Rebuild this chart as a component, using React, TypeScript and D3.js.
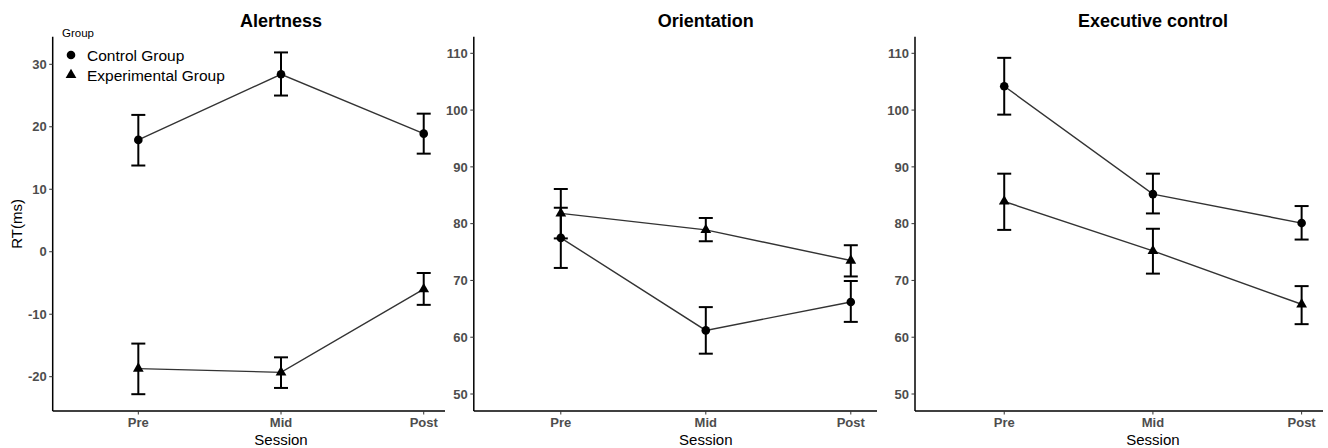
import * as d3 from 'd3';

const sessions = ['Pre', 'Mid', 'Post'];
const groups = ['Control Group', 'Experimental Group'];

// Alertness
const alertCtrl = [17.9, 28.4, 18.9];
const alertCtrlLo = [13.8, 25.0, 15.7];
const alertCtrlHi = [21.9, 31.9, 22.1];
const alertExp = [-18.7, -19.3, -6.0];
const alertExpLo = [-22.8, -21.8, -8.5];
const alertExpHi = [-14.7, -16.9, -3.4];

// Orientation
const orientCtrl = [77.5, 61.2, 66.2];
const orientCtrlLo = [72.2, 57.1, 62.7];
const orientCtrlHi = [82.8, 65.3, 69.9];
const orientExp = [81.8, 78.9, 73.5];
const orientExpLo = [77.4, 76.9, 70.7];
const orientExpHi = [86.1, 81.0, 76.2];

// Executive control
const execCtrl = [104.2, 85.2, 80.1];
const execCtrlLo = [99.2, 81.8, 77.2];
const execCtrlHi = [109.2, 88.8, 83.1];
const execExp = [83.9, 75.2, 65.8];
const execExpLo = [78.9, 71.2, 62.3];
const execExpHi = [88.8, 79.1, 69.0];

const alertTicks = [-20, -10, 0, 10, 20, 30];
const rtTicks = [50, 60, 70, 80, 90, 100, 110];

const font = '"Liberation Sans", Arial, sans-serif';

const panels = [
  {
    title: 'Alertness', bgX: 0, axisX: 52.7, step: 142.7, axisEnd: 445,
    domain: [-20, 30], range: [376.7, 64.3], ticks: alertTicks, yLabel: true, legend: true,
    series: [
      { mean: alertCtrl, lo: alertCtrlLo, hi: alertCtrlHi, shape: 'circle' },
      { mean: alertExp, lo: alertExpLo, hi: alertExpHi, shape: 'triangle' },
    ],
  },
  {
    title: 'Orientation', bgX: 445, axisX: 473.8, step: 145, axisEnd: 877,
    domain: [50, 110], range: [394, 53.3], ticks: rtTicks, yLabel: false, legend: false,
    series: [
      { mean: orientCtrl, lo: orientCtrlLo, hi: orientCtrlHi, shape: 'circle' },
      { mean: orientExp, lo: orientExpLo, hi: orientExpHi, shape: 'triangle' },
    ],
  },
  {
    title: 'Executive control', bgX: 877, axisX: 915, step: 148.7, axisEnd: 1323,
    domain: [50, 110], range: [394, 53.3], ticks: rtTicks, yLabel: false, legend: false,
    series: [
      { mean: execCtrl, lo: execCtrlLo, hi: execCtrlHi, shape: 'circle' },
      { mean: execExp, lo: execExpLo, hi: execExpHi, shape: 'triangle' },
    ],
  },
];

const TOP = 36.7;
const BOTTOM = 411;

const symbolPath = (shape: string) =>
  d3.symbol().type(shape === 'circle' ? d3.symbolCircle : d3.symbolTriangle).size(shape === 'circle' ? 58 : 50)()!;

function Panel({ p }: { p: any }) {
  const x = d3.scalePoint<string>().domain(sessions).range([p.axisX, p.axisX + p.step * 3.2]).padding(0.6);
  const y = d3.scaleLinear().domain(p.domain).range(p.range);
  const line = d3.line<number>().x((_, i) => x(sessions[i])!).y((d) => y(d));
  const mid = x('Mid')!;

  return (
    <g>
      <rect x={p.bgX} y={0} width={1328 - p.bgX} height={448} fill="#fff" />
      <text x={mid} y={27} textAnchor="middle" fontSize={18} fontWeight="bold" fill="#000">{p.title}</text>

      {/* series lines */}
      {p.series.map((s: any, si: number) => (
        <path key={'l' + si} d={line(s.mean)!} fill="none" stroke="#333" strokeWidth={1.4} />
      ))}
      {/* error bars */}
      {p.series.map((s: any, si: number) =>
        s.mean.map((_: number, i: number) => {
          const cx = x(sessions[i])!;
          return (
            <g key={'e' + si + i} stroke="#000" strokeWidth={2}>
              <line x1={cx} x2={cx} y1={y(s.lo[i])} y2={y(s.hi[i])} />
              <line x1={cx - 7} x2={cx + 7} y1={y(s.lo[i])} y2={y(s.lo[i])} />
              <line x1={cx - 7} x2={cx + 7} y1={y(s.hi[i])} y2={y(s.hi[i])} />
            </g>
          );
        })
      )}
      {/* points */}
      {p.series.map((s: any, si: number) =>
        s.mean.map((v: number, i: number) => (
          <path key={'p' + si + i} d={symbolPath(s.shape)} transform={`translate(${x(sessions[i])},${y(v)})`} fill="#000" />
        ))
      )}

      {/* axes */}
      <line x1={p.axisX} x2={p.axisX} y1={TOP} y2={BOTTOM} stroke="#000" strokeWidth={1.5} />
      <line x1={p.axisX} x2={p.axisEnd} y1={BOTTOM} y2={BOTTOM} stroke="#000" strokeWidth={1.5} />
      {p.ticks.map((t: number) => (
        <g key={'yt' + t}>
          <line x1={p.axisX - 3.5} x2={p.axisX} y1={y(t)} y2={y(t)} stroke="#333" strokeWidth={1} />
          <text x={p.axisX - 6} y={y(t)} dy="0.36em" textAnchor="end" fontSize={13} fontWeight="bold" fill="#4d4d4d">{t}</text>
        </g>
      ))}
      {sessions.map((s) => (
        <g key={'xt' + s}>
          <line x1={x(s)} x2={x(s)} y1={BOTTOM} y2={BOTTOM + 3.5} stroke="#333" strokeWidth={1} />
          <text x={x(s)} y={BOTTOM + 15.5} textAnchor="middle" fontSize={13} fontWeight="bold" fill="#4d4d4d">{s}</text>
        </g>
      ))}
      <text x={mid} y={445} textAnchor="middle" fontSize={15} fill="#000">Session</text>
      {p.yLabel && (
        <text transform={`translate(22,${(TOP + BOTTOM) / 2}) rotate(-90)`} textAnchor="middle" fontSize={15} fill="#000">RT(ms)</text>
      )}
      {p.legend && (
        <g>
          <text x={62} y={37} fontSize={11.5} fill="#000">Group</text>
          {groups.map((g, gi) => (
            <g key={g}>
              <path d={symbolPath(gi === 0 ? 'circle' : 'triangle')} transform={`translate(71,${55 + gi * 20})`} fill="#000" />
              <text x={87} y={55 + gi * 20} dy="0.36em" fontSize={15.5} fill="#000">{g}</text>
            </g>
          ))}
        </g>
      )}
    </g>
  );
}

export default function App() {
  return (
    <svg width={1328} height={448} style={{ position: 'absolute', left: 0, top: 0, fontFamily: font, background: '#fff' }}>
      {panels.map((p) => (
        <Panel key={p.title} p={p} />
      ))}
    </svg>
  );
}
